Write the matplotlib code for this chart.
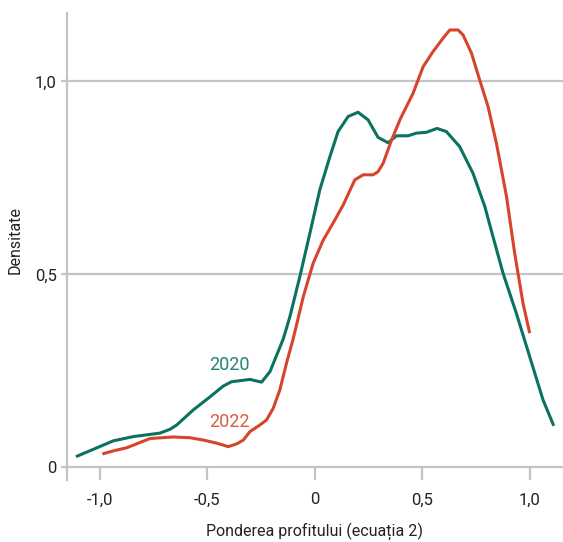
import matplotlib
matplotlib.use("Agg")
import matplotlib.pyplot as plt
from matplotlib import font_manager

# date
x_2020 = [-1.112, -0.938, -0.845, -0.721, -0.674, -0.643, -0.566, -0.488, -0.426, -0.388,
          -0.302, -0.248, -0.209, -0.147, -0.116, -0.070, -0.023, 0.023, 0.070, 0.108,
          0.155, 0.201, 0.248, 0.294, 0.341, 0.380, 0.434, 0.473, 0.519, 0.569,
          0.612, 0.674, 0.736, 0.791, 0.829, 0.876, 0.938, 1.000, 1.062, 1.112]
y_2020 = [0.028, 0.069, 0.080, 0.089, 0.099, 0.110, 0.149, 0.183, 0.211, 0.222,
          0.228, 0.221, 0.248, 0.333, 0.391, 0.494, 0.607, 0.719, 0.805, 0.870,
          0.909, 0.920, 0.900, 0.855, 0.841, 0.859, 0.859, 0.866, 0.868, 0.878,
          0.870, 0.831, 0.762, 0.676, 0.598, 0.503, 0.399, 0.287, 0.175, 0.108]

x_2022 = [-0.989, -0.938, -0.876, -0.767, -0.659, -0.581, -0.519, -0.457, -0.403, -0.364,
          -0.333, -0.302, -0.256, -0.225, -0.194, -0.163, -0.132, -0.101, -0.054, -0.008,
          0.039, 0.085, 0.132, 0.186, 0.225, 0.271, 0.294, 0.318, 0.357, 0.398,
          0.457, 0.504, 0.550, 0.597, 0.628, 0.667, 0.690, 0.729, 0.767, 0.806,
          0.845, 0.892, 0.930, 0.969, 1.000]
y_2022 = [0.035, 0.043, 0.051, 0.075, 0.079, 0.077, 0.071, 0.063, 0.054, 0.061,
          0.071, 0.093, 0.110, 0.123, 0.153, 0.201, 0.270, 0.333, 0.442, 0.529,
          0.589, 0.633, 0.680, 0.745, 0.758, 0.758, 0.766, 0.788, 0.848, 0.903,
          0.969, 1.038, 1.077, 1.112, 1.133, 1.133, 1.120, 1.073, 1.004, 0.935,
          0.840, 0.702, 0.555, 0.425, 0.348]

x_ticks = [-1.0, -0.5, 0, 0.5, 1.0]
x_tick_labels = ["-1,0", "-0,5", "0", "0,5", "1,0"]
y_ticks = [0, 0.5, 1.0]
y_tick_labels = ["0", "0,5", "1,0"]

VERDE = "#0b7260"
ROSU = "#d6452b"
GRI = "#c4c4c4"
TEXT = "#222222"

names = {f.name for f in font_manager.fontManager.ttflist}
fam = ["Liberation Sans Narrow"] if "Liberation Sans Narrow" in names else ["Roboto"]
plt.rcParams["font.family"] = fam + ["DejaVu Sans"]

fig = plt.figure(figsize=(5.63, 5.42), dpi=100)
ax = fig.add_axes([0.1185, 0.1375, 0.8815, 0.8385])

ax.plot(x_2020, y_2020, color=VERDE, lw=2.2, solid_capstyle="butt", zorder=3)
ax.plot(x_2022, y_2022, color=ROSU, lw=2.2, solid_capstyle="butt", zorder=3)

ax.text(-0.40, 0.266, "2020", color="#1f8572", fontsize=13, ha="center", va="center")
ax.text(-0.40, 0.117, "2022", color="#e05a43", fontsize=13, ha="center", va="center")

ax.set_xlim(-1.155, 1.155)
ax.set_ylim(0, 1.177)

for v in y_ticks[1:]:
    ax.axhline(v, color=GRI, lw=1.6, zorder=1)

for s in ["top", "right"]:
    ax.spines[s].set_visible(False)
for s in ["left", "bottom"]:
    ax.spines[s].set_color(GRI)
    ax.spines[s].set_linewidth(1.6)
# prelungire axa verticala sub zero
ax.plot([0, 0], [0, -0.027], transform=ax.transAxes, color=GRI, lw=1.6, clip_on=False)

ax.set_xticks(x_ticks)
ax.set_xticklabels(x_tick_labels)
ax.set_yticks(y_ticks)
ax.set_yticklabels(y_tick_labels)
ax.tick_params(axis="x", length=9, width=1.6, color=GRI, labelsize=12, labelcolor=TEXT, pad=9)
ax.tick_params(axis="y", length=4, width=1.6, color=GRI, labelsize=12, labelcolor=TEXT, pad=3)

ax.set_xlabel("Ponderea profitului (ecuația 2)", fontsize=11.5, color=TEXT, labelpad=11)
ax.set_ylabel("Densitate", fontsize=11.5, color=TEXT, labelpad=9)

fig.savefig("out.png", dpi=100)
